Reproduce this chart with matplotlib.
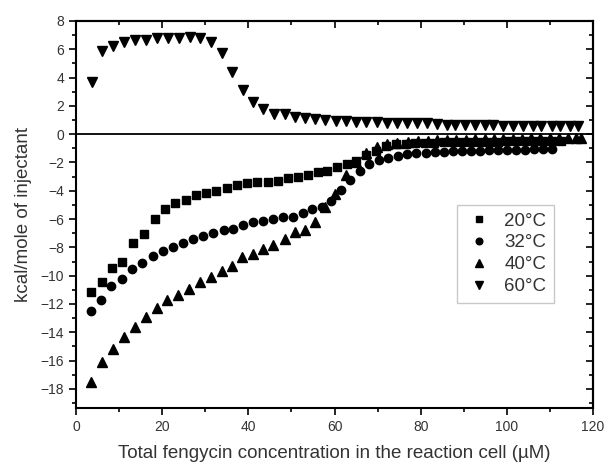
import matplotlib
matplotlib.use("Agg")
import matplotlib.pyplot as plt
from matplotlib.ticker import MultipleLocator

plt.rcParams['font.family'] = ['Liberation Sans', 'DejaVu Sans']

# 20 °C (squares)
x20 = [3.4, 6.0, 8.4, 10.7, 13.3, 15.8, 18.3, 20.6, 23.0, 25.5, 27.9, 30.2, 32.6, 35.0,
       37.4, 39.7, 42.1, 44.5, 46.9, 49.2, 51.5, 53.8, 56.1, 58.2, 60.6, 62.9, 65.1, 67.4,
       69.6, 71.9, 74.2, 76.6, 78.8, 81.0, 83.2, 85.3, 87.4, 89.5, 91.6, 93.7, 95.8, 97.9,
       100.0, 102.1, 104.2, 106.3, 108.4, 110.5, 112.6]
y20 = [-11.18, -10.46, -9.47, -9.0, -7.70, -7.04, -5.98, -5.32, -4.87, -4.64, -4.33, -4.14,
       -3.98, -3.79, -3.57, -3.48, -3.40, -3.35, -3.28, -3.09, -3.06, -2.85, -2.68, -2.59,
       -2.31, -2.08, -1.89, -1.47, -1.20, -0.82, -0.70, -0.66, -0.64, -0.62, -0.60, -0.58,
       -0.57, -0.56, -0.55, -0.54, -0.53, -0.52, -0.51, -0.50, -0.50, -0.49, -0.48, -0.48,
       -0.47]

# 32 °C (circles)
x32 = [3.4, 5.8, 8.2, 10.6, 13.0, 15.4, 17.8, 20.2, 22.6, 24.9, 27.2, 29.5, 31.9, 34.3,
       36.5, 38.8, 41.1, 43.5, 45.8, 48.1, 50.3, 52.6, 54.8, 57.1, 59.3, 61.6, 63.7, 65.9,
       68.1, 70.4, 72.5, 74.8, 76.9, 79.0, 81.2, 83.3, 85.4, 87.5, 89.6, 91.7, 93.7, 95.9,
       98.0, 100.1, 102.2, 104.2, 106.3, 108.4, 110.4]
y32 = [-12.48, -11.70, -10.76, -10.24, -9.53, -9.11, -8.59, -8.22, -7.96, -7.68, -7.44,
       -7.18, -6.97, -6.74, -6.69, -6.43, -6.24, -6.10, -5.96, -5.86, -5.82, -5.58, -5.32,
       -5.16, -4.69, -3.96, -3.23, -2.57, -2.12, -1.82, -1.65, -1.51, -1.39, -1.34, -1.30,
       -1.27, -1.23, -1.20, -1.18, -1.18, -1.16, -1.13, -1.11, -1.11, -1.09, -1.09, -1.06,
       -1.06, -1.06]

# 40 °C (triangles up)
x40 = [3.5, 6.0, 8.5, 11.2, 13.8, 16.3, 18.8, 21.2, 23.7, 26.2, 28.8, 31.3, 33.8, 36.2,
       38.6, 41.0, 43.4, 45.8, 48.4, 50.9, 53.2, 55.5, 57.8, 60.1, 62.6, 65.0, 67.4, 69.8,
       72.2, 74.6, 77.0, 79.3, 81.6, 83.9, 86.1, 88.3, 90.5, 92.7, 94.9, 97.1, 99.2, 101.4,
       103.6, 105.7, 107.8, 110.0, 112.1, 114.2, 116.0, 117.3]
y40 = [-17.54, -16.08, -15.16, -14.36, -13.63, -12.95, -12.25, -11.75, -11.35, -10.95,
       -10.45, -10.06, -9.65, -9.28, -8.69, -8.47, -8.12, -7.80, -7.39, -6.92, -6.76, -6.17,
       -5.16, -4.22, -2.90, -1.95, -1.30, -0.90, -0.70, -0.60, -0.55, -0.50, -0.47, -0.44,
       -0.42, -0.40, -0.38, -0.36, -0.35, -0.34, -0.33, -0.32, -0.31, -0.30, -0.29, -0.28,
       -0.27, -0.27, -0.26, -0.26]

# 60 °C (triangles down)
x60 = [3.6, 6.1, 8.7, 11.2, 13.8, 16.3, 18.9, 21.3, 23.8, 26.4, 28.8, 31.3, 33.9, 36.3,
       38.7, 41.1, 43.5, 46.0, 48.4, 50.8, 53.1, 55.5, 57.9, 60.3, 62.6, 65.1, 67.4, 69.8,
       72.2, 74.5, 76.9, 79.2, 81.5, 83.8, 86.0, 88.0, 90.3, 92.6, 94.9, 96.8, 99.1, 101.4,
       103.7, 106.0, 108.0, 110.4, 112.3, 114.6, 116.5]
y60 = [3.71, 5.88, 6.26, 6.54, 6.64, 6.64, 6.78, 6.82, 6.82, 6.87, 6.82, 6.54, 5.72, 4.42,
       3.13, 2.30, 1.77, 1.43, 1.41, 1.19, 1.18, 1.04, 1.01, 0.95, 0.95, 0.86, 0.88, 0.87,
       0.79, 0.78, 0.77, 0.77, 0.76, 0.71, 0.67, 0.65, 0.64, 0.63, 0.63, 0.62, 0.61, 0.61,
       0.60, 0.60, 0.59, 0.59, 0.58, 0.58, 0.57]

labels = ['20°C', '32°C', '40°C', '60°C']

fig = plt.figure(figsize=(6.10, 4.67), dpi=100)
ax = fig.add_axes([76/610, 59/467, 517/610, 387/467])

ax.axhline(0, color='black', lw=1.3, zorder=1)
ax.plot(x20, y20, ls='none', marker='s', ms=5.5, color='black', label=labels[0], zorder=3)
ax.plot(x32, y32, ls='none', marker='o', ms=6.0, color='black', label=labels[1], zorder=3)
ax.plot(x40, y40, ls='none', marker='^', ms=6.5, color='black', label=labels[2], zorder=3)
ax.plot(x60, y60, ls='none', marker='v', ms=6.5, color='black', label=labels[3], zorder=3)

ax.set_xlim(0, 120)
ax.set_ylim(-19.35, 8)
ax.xaxis.set_major_locator(MultipleLocator(20))
ax.xaxis.set_minor_locator(MultipleLocator(10))
ax.yaxis.set_major_locator(MultipleLocator(2))
ax.yaxis.set_minor_locator(MultipleLocator(1))

for sp in ax.spines.values():
    sp.set_linewidth(1.5)

ax.tick_params(which='both', direction='out', colors='black', labelcolor='#333333',
               labelsize=10, width=1.2)
ax.tick_params(which='major', length=5)
ax.tick_params(which='minor', length=3)

# inward ticks on top and right
axt = ax.secondary_xaxis('top')
axt.xaxis.set_major_locator(MultipleLocator(20))
axt.xaxis.set_minor_locator(MultipleLocator(10))
axt.tick_params(which='both', direction='in', labeltop=False, width=1.2)
axt.tick_params(which='major', length=5)
axt.tick_params(which='minor', length=3)
axt.spines['top'].set_linewidth(1.5)
axr = ax.secondary_yaxis('right')
axr.yaxis.set_major_locator(MultipleLocator(2))
axr.yaxis.set_minor_locator(MultipleLocator(1))
axr.tick_params(which='both', direction='in', labelright=False, width=1.2)
axr.tick_params(which='major', length=5)
axr.tick_params(which='minor', length=3)
axr.spines['right'].set_linewidth(1.5)

ax.set_xlabel('Total fengycin concentration in the reaction cell (µM)', fontsize=13.5,
              color='#333333', labelpad=8)
ax.set_ylabel('kcal/mole of injectant', fontsize=13.5, color='#333333', labelpad=6)

leg = ax.legend(loc='upper left', bbox_to_anchor=(0.736, 0.5245), borderaxespad=0,
                fontsize=13.5, frameon=True, fancybox=False, handlelength=1.6,
                handletextpad=0.55, labelspacing=0.25, borderpad=0.4, markerscale=0.8)
leg.get_frame().set_edgecolor('#bbbbbb')
leg.get_frame().set_linewidth(1.0)
for t in leg.get_texts():
    t.set_color('#333333')

fig.savefig('out.png', dpi=100)
